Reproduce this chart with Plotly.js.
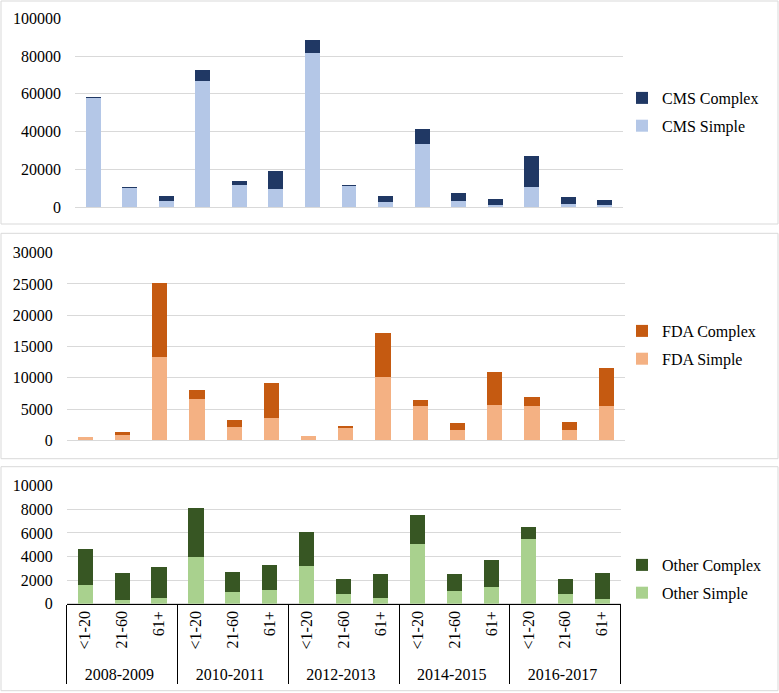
<!DOCTYPE html>
<html>
<head>
<meta charset="utf-8">
<script src="https://cdn.plot.ly/plotly-3.0.1.min.js"></script>
<style>html,body{margin:0;padding:0;background:#fff;}#chart{width:779px;height:693px;}</style>
</head>
<body>
<div id="chart"></div>
<script>
// ---- data ----
var years = ['2008-2009', '2010-2011', '2012-2013', '2014-2015', '2016-2017'];
var ages = ['<1-20', '21-60', '61+'];

var cmsSimple  = [57700, 10000, 3400, 66800, 11700, 9700, 81800, 11300, 2800, 33300, 3200, 1200, 10500, 1800, 800];
var cmsComplex = [600, 600, 2200, 5800, 1900, 9400, 6500, 600, 2900, 8200, 4200, 2900, 16500, 3300, 2900];

var fdaSimple  = [450, 920, 13300, 6600, 2100, 3500, 620, 1900, 10100, 5500, 1700, 5700, 5500, 1600, 5500];
var fdaComplex = [150, 420, 11800, 1400, 1200, 5600, 30, 400, 7000, 1000, 1000, 5200, 1400, 1300, 6000];

var otherSimple  = [1600, 300, 500, 4000, 1000, 1200, 3200, 800, 500, 5100, 1100, 1400, 5500, 800, 400];
var otherComplex = [3000, 2300, 2600, 4100, 1700, 2100, 2900, 1300, 2000, 2400, 1400, 2300, 1000, 1300, 2200];

// multicategory x built from the label arrays
var xOuter = [], xInner = [];
years.forEach(function (y) { ages.forEach(function (a) { xOuter.push(y); xInner.push(a); }); });
var X = [xOuter, xInner];

var W = 779, H = 693;
function px(v) { return v / W; }
function py(v) { return 1 - v / H; }

var FONT = 'Liberation Serif, Times New Roman, serif';

function bar(y, name, color, xa, ya, leg, rank) {
  return { type: 'bar', x: X, y: y, name: name, xaxis: xa, yaxis: ya,
           legend: leg, legendgroup: name, legendrank: rank,
           marker: { color: color, line: { width: 0 } }, hoverinfo: 'y+name' };
}

var data = [
  bar(cmsSimple, 'CMS Simple', '#B4C7E7', 'x', 'y', 'legend', 2),
  bar(cmsComplex, 'CMS Complex', '#203864', 'x', 'y', 'legend', 1),
  bar(fdaSimple, 'FDA Simple', '#F4B183', 'x2', 'y2', 'legend2', 2),
  bar(fdaComplex, 'FDA Complex', '#C55A11', 'x2', 'y2', 'legend2', 1),
  bar(otherSimple, 'Other Simple', '#A9D18E', 'x3', 'y3', 'legend3', 2),
  bar(otherComplex, 'Other Complex', '#375623', 'x3', 'y3', 'legend3', 1)
];

var yBase = {
  showline: false, ticks: '', gridcolor: '#D9D9D9', gridwidth: 1,
  zeroline: true, zerolinecolor: '#D9D9D9', zerolinewidth: 1,
  tickfont: { family: FONT, size: 16, color: '#000' }, ticklabelstandoff: 13,
  tickformat: 'd', fixedrange: true
};
function yax(domain, range, dtick, anchor) {
  return Object.assign({}, yBase, { domain: domain, range: range, dtick: dtick, anchor: anchor });
}
function xhidden(domain, anchor) {
  return { type: 'multicategory', domain: domain, anchor: anchor, showticklabels: false,
           showline: false, ticks: '', showgrid: false, showdividers: false,
           range: [-0.5, 14.5], fixedrange: true };
}

var legFont = { family: FONT, size: 16, color: '#000' };
function leg(yc) {
  return { x: px(622), xanchor: 'left', y: py(yc), yanchor: 'middle', font: legFont,
           bgcolor: 'rgba(0,0,0,0)', traceorder: 'grouped', tracegroupgap: 4 };
}

var layout = {
  width: W, height: H,
  margin: { l: 0, r: 0, t: 0, b: 0 },
  paper_bgcolor: '#fff', plot_bgcolor: 'rgba(0,0,0,0)',
  barmode: 'stack', bargap: 0.59,
  font: { family: FONT, size: 16, color: '#000' },
  showlegend: true,
  xaxis: xhidden([px(75), px(623)], 'y'),
  yaxis: yax([py(207), py(18.3)], [0, 100000], 20000, 'x'),
  xaxis2: xhidden([px(66.7), px(625)], 'y2'),
  yaxis2: yax([py(440.3), py(252.7)], [0, 30000], 5000, 'x2'),
  xaxis3: {
    type: 'multicategory', domain: [px(66.7), px(620.7)], anchor: 'y3',
    range: [-0.5, 14.5], showgrid: false, ticks: '', tickangle: -90,
    showline: true, linecolor: '#000', linewidth: 1,
    showdividers: true, dividercolor: '#000', dividerwidth: 1,
    tickfont: { family: FONT, size: 16, color: '#000' }, fixedrange: true
  },
  yaxis3: yax([py(603.7), py(485.7)], [0, 10000], 2000, 'x3'),
  legend: leg(112),
  legend2: leg(345),
  legend3: leg(579),
  shapes: [
    { type: 'rect', xref: 'paper', yref: 'paper', x0: px(1), x1: px(778), y0: py(224), y1: py(1),
      line: { color: '#D9D9D9', width: 1 }, fillcolor: 'rgba(0,0,0,0)', layer: 'below' },
    { type: 'rect', xref: 'paper', yref: 'paper', x0: px(1), x1: px(778), y0: py(458.7), y1: py(233.3),
      line: { color: '#D9D9D9', width: 1 }, fillcolor: 'rgba(0,0,0,0)', layer: 'below' },
    { type: 'rect', xref: 'paper', yref: 'paper', x0: px(1), x1: px(778), y0: py(690.7), y1: py(466.7),
      line: { color: '#D9D9D9', width: 1 }, fillcolor: 'rgba(0,0,0,0)', layer: 'below' }
  ]
};

Plotly.newPlot('chart', data, layout, { displayModeBar: false, staticPlot: true });
</script>
</body>
</html>
